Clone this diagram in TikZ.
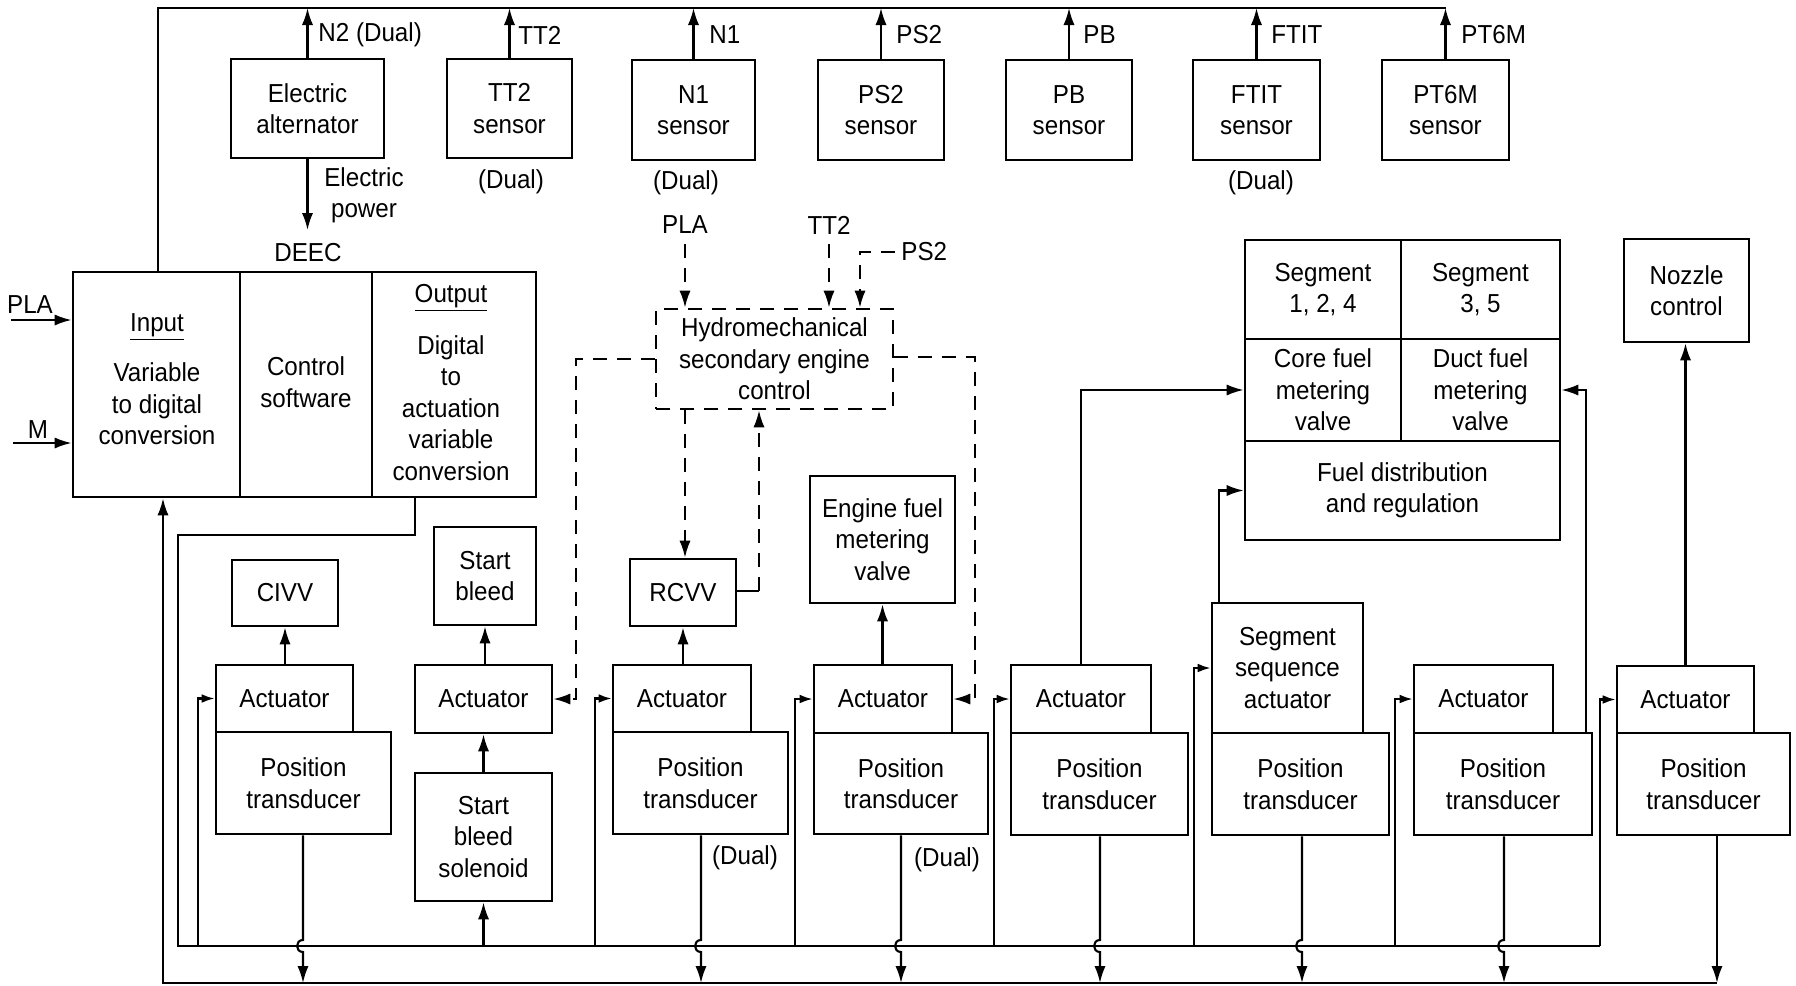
\documentclass[tikz,border=0pt]{standalone}
\usepackage{fontspec}
\setmainfont{Liberation Sans}[FakeStretch=0.93]
\usetikzlibrary{arrows.meta}
\newcommand{\bx}[7][]{%
  \pgfmathsetmacro{\bxcx}{(#3+#5)/2}%
  \pgfmathsetmacro{\bxcy}{(#4+#6)/2}%
  \pgfmathsetmacro{\bxw}{(#5-#3)*0.5}%
  \pgfmathsetmacro{\bxh}{(#6-#4)*0.5}%
  \node[box,minimum width=\bxw pt,minimum height=\bxh pt,#1] (#2) at (\bxcx,\bxcy) {#7};}
\newcommand{\ptline}[2]{%
  \draw[arr] (#1.south -| #2) -- ([yshift=3pt]#2) .. controls ([shift={(-4pt,3pt)}]#2) and ([shift={(-4pt,-3pt)}]#2) .. ([yshift=-3pt]#2) -- (#2 |- bbL);}
\begin{document}
\begin{tikzpicture}[x=0.5pt,y=-0.5pt,
  every node/.style={font=\fontsize{13}{15.7}\selectfont, align=center, inner sep=0pt},
  box/.style={draw, line width=1.35pt, inner sep=0pt},
  ln/.style={line width=1.05pt},
  tip/.style={-{Latex[length=8.5pt,width=5.6pt]}},
  arr/.style={ln, tip},
  sarr/.style={ln, -{Latex[length=6.5pt,width=4.4pt]}},
  dsh/.style={dash pattern=on 7pt off 5pt}
]
\fill[white] (0,0) rectangle (1796,986);
\useasboundingbox (0,0) rectangle (1796,986);

% ---------- sensors ----------
\bx{alt}{231}{59}{384}{158}{Electric\\alternator}
\bx{tt2}{447}{59}{572}{158}{TT2\\sensor}
\bx{n1}{632}{60}{755}{160}{N1\\sensor}
\bx{ps2}{818}{60}{944}{160}{PS2\\sensor}
\bx{pb}{1006}{60}{1132}{160}{PB\\sensor}
\bx{ftit}{1193}{60}{1320}{160}{FTIT\\sensor}
\bx{pt6m}{1382}{60}{1509}{160}{PT6M\\sensor}

\node[anchor=west] (lN2) at (318,35) {N2 (Dual)};
\node[anchor=west] (lTT2) at (518,35) {TT2};
\node[anchor=west] (lN1) at (709,35) {N1};
\node[anchor=west] (lPS2) at (896,35) {PS2};
\node[anchor=west] (lPB) at (1083,35) {PB};
\node[anchor=west] (lFTIT) at (1271,35) {FTIT};
\node[anchor=west] (lPT6M) at (1461,35) {PT6M};
\node (dTT2) at (511,182) {(Dual)};
\node (dN1) at (686,183) {(Dual)};
\node (dFTIT) at (1261,183) {(Dual)};

% ---------- DEEC ----------
\bx{din}{73}{272}{240}{497}{}
\bx{dctl}{240}{272}{372}{497}{}
\bx{dout}{372}{272}{536}{497}{}
\node (tin) at (157,327) {\underline{Input}};
\node (tvar) at (157,404) {Variable\\to digital\\conversion};
\node (tctl) at (306,382) {Control\\software};
\node (tout) at (451,298) {\underline{Output}};
\node (tdig) at (451,408) {Digital\\to\\actuation\\variable\\conversion};
\node (ldeec) at (308,253) {DEEC};

\coordinate (top0) at (158,8);
\coordinate (top1) at (1446,8);
\draw[ln] (din.north -| top0) -- (top0) -- (top1);
\foreach \s in {alt,tt2,n1,ps2,pb,ftit,pt6m}{
  \draw[arr] (\s.north) -- (\s.north |- top0);
}
\coordinate (ep) at (307,230);
\draw[arr] (alt.south) -- (alt.south |- ep);
\node (lep) at (364,195) {Electric\\power};

\coordinate (plaS) at (11,320);
\draw[arr] (plaS) -- (plaS -| din.west);
\node (lpla) at (30,305) {PLA};
\coordinate (mS) at (13,443);
\draw[arr] (mS) -- (mS -| din.west);
\node (lm) at (38,430) {M};

% ---------- hydromechanical ----------
\bx[dsh]{hydro}{656}{309}{893}{409}{Hydromechanical\\secondary engine\\control}
\node (hpla) at (685,225) {PLA};
\node (htt2) at (829,225) {TT2};
\node[anchor=west] (hps2) at (901,252) {PS2};
\coordinate (ps2c) at (860,252);
\draw[ln,dsh,tip,shorten <=5pt] (hpla.south) -- (hpla.south |- hydro.north);
\draw[ln,dsh,tip,shorten <=5pt] (htt2.south) -- (htt2.south |- hydro.north);
\draw[ln,dsh,tip,shorten <=3pt] (hps2.west) -- (ps2c) -- (ps2c |- hydro.north);

% ---------- lower boxes ----------
\bx{civv}{232}{560}{338}{626}{CIVV}
\bx{act1}{216}{665}{353}{732}{Actuator}
\bx{pt1}{216}{732}{391}{834}{Position\\transducer}
\bx{sb}{434}{527}{536}{625}{Start\\bleed}
\bx{act2}{415}{665}{552}{733}{Actuator}
\bx{sol}{415}{773}{552}{901}{Start\\bleed\\solenoid}
\bx{rcvv}{630}{559}{736}{626}{RCVV}
\bx{act3}{613}{665}{751}{732}{Actuator}
\bx{pt3}{613}{732}{788}{834}{Position\\transducer}
\bx{efmv}{810}{476}{955}{603}{Engine fuel\\metering\\valve}
\bx{act4}{814}{665}{952}{733}{Actuator}
\bx{pt4}{814}{733}{988}{834}{Position\\transducer}
\bx{act5}{1011}{665}{1151}{733}{Actuator}
\bx{pt5}{1011}{733}{1188}{835}{Position\\transducer}
\bx{ssa}{1212}{603}{1363}{733}{Segment\\sequence\\actuator}
\bx{pt6}{1212}{733}{1389}{835}{Position\\transducer}
\bx{act7}{1414}{665}{1553}{733}{Actuator}
\bx{pt7}{1414}{733}{1592}{835}{Position\\transducer}
\bx{act8}{1617}{666}{1754}{733}{Actuator}
\bx{pt8}{1617}{733}{1790}{835}{Position\\transducer}
\node (dd3) at (745,858) {(Dual)};
\node (dd4) at (947,860) {(Dual)};

% ---------- fuel block ----------
\bx{seg1}{1245}{240}{1401}{339}{Segment\\1, 2, 4}
\bx{seg2}{1401}{240}{1560}{339}{Segment\\3, 5}
\bx{core}{1245}{339}{1401}{441}{Core fuel\\metering\\valve}
\bx{duct}{1401}{339}{1560}{441}{Duct fuel\\metering\\valve}
\bx{fdr}{1245}{441}{1560}{540}{Fuel distribution\\and regulation}
\bx{noz}{1624}{239}{1749}{342}{Nozzle\\control}

% ---------- actuator outputs ----------
\draw[arr] (act1.north -| civv.south) -- (civv.south);
\draw[arr] (act2.north -| sb.south) -- (sb.south);
\draw[arr] (sol.north -| act2.south) -- (act2.south);
\draw[arr] (act3.north -| rcvv.south) -- (rcvv.south);
\draw[arr] (act4.north -| efmv.south) -- (efmv.south);
\draw[arr] (act5.north) -- (act5.north |- core.west) -- (core.west);
\coordinate (c6) at (1219,0);
\draw[arr] (ssa.north -| c6) -- (c6 |- fdr.west) -- (fdr.west);
\coordinate (c7) at (1586,0);
\draw[arr] (pt7.north -| c7) -- (c7 |- duct.east) -- (duct.east);
\draw[arr] (act8.north) -- (act8.north |- noz.south);

% ---------- dashed hydromechanical links ----------
\coordinate (hr) at (685,0);
\draw[ln,dsh,tip] (hydro.south -| hr) -- (rcvv.north -| hr);
\coordinate (rh) at (759,591);
\draw[ln] (rcvv.east |- rh) -- (rh);
\draw[ln,dsh,tip] (rh) -- (rh |- hydro.south);
\coordinate (hl) at (576,359);
\draw[ln,dsh,tip] (hydro.west |- hl) -- (hl) -- (hl |- act2.east) -- (act2.east);
\coordinate (hrr) at (975,357);
\draw[ln,dsh,tip] (hydro.east |- hrr) -- (hrr) -- (hrr |- act4.east) -- (act4.east);

% ---------- output bus ----------
\coordinate (ob1) at (415,535);
\coordinate (ob2) at (178,535);
\coordinate (busL) at (178,946);
\coordinate (busR) at (1600,946);
\draw[ln] (dout.south -| ob1) -- (ob1) -- (ob2) -- (busL) -- (busR);
\draw[sarr] (busR) -- (busR |- act8.west) -- (act8.west);
\coordinate (f1) at (198,946);
\coordinate (f3) at (595,946);
\coordinate (f4) at (795,946);
\coordinate (f5) at (994,946);
\coordinate (f6) at (1194,946);
\coordinate (f7) at (1395,946);
\draw[sarr] (f1) -- (f1 |- act1.west) -- (act1.west);
\draw[sarr] (f3) -- (f3 |- act3.west) -- (act3.west);
\draw[sarr] (f4) -- (f4 |- act4.west) -- (act4.west);
\draw[sarr] (f5) -- (f5 |- act5.west) -- (act5.west);
\draw[sarr] (f6) -- (f6 |- ssa.west) -- (ssa.west);
\draw[sarr] (f7) -- (f7 |- act7.west) -- (act7.west);
\draw[arr] (sol.south |- busL) -- (sol.south);

% ---------- feedback bus ----------
\coordinate (bbL) at (163,983);
\coordinate (bbR) at (1717,983);
\draw[arr] (bbR) -- (bbL) -- (bbL |- din.south);
\coordinate (h1) at (303,946);
\coordinate (h3) at (701,946);
\coordinate (h4) at (901,946);
\coordinate (h5) at (1100,946);
\coordinate (h6) at (1302,946);
\coordinate (h7) at (1504,946);
\ptline{pt1}{h1}
\ptline{pt3}{h3}
\ptline{pt4}{h4}
\ptline{pt5}{h5}
\ptline{pt6}{h6}
\ptline{pt7}{h7}
\draw[arr] (pt8.south -| bbR) -- (bbR);
\end{tikzpicture}
\end{document}
